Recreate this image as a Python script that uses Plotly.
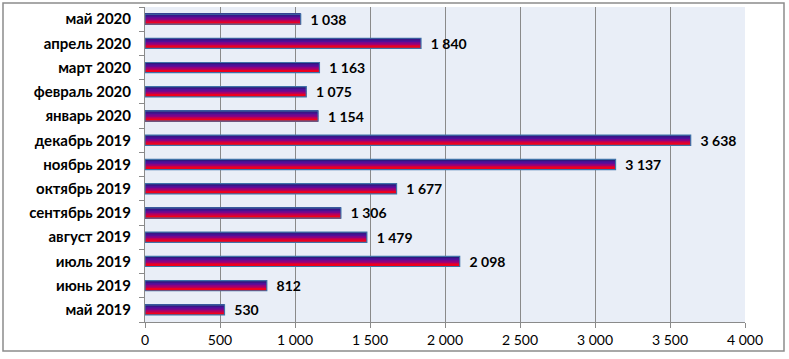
import plotly.graph_objects as go

months = ["май 2019", "июнь 2019", "июль 2019", "август 2019", "сентябрь 2019",
          "октябрь 2019", "ноябрь 2019", "декабрь 2019", "январь 2020",
          "февраль 2020", "март 2020", "апрель 2020", "май 2020"]
values = [530, 812, 2098, 1479, 1306, 1677, 3137, 3638, 1154, 1075, 1163, 1840, 1038]
x_ticks = [0, 500, 1000, 1500, 2000, 2500, 3000, 3500, 4000]

FONT = "Lato, Carlito, Calibri, 'DejaVu Sans', sans-serif"
BAR_W = 0.42
N = 14
stops = [(0.0, (255, 0, 0)), (0.25, (235, 0, 35)), (0.5, (150, 0, 125)),
         (0.75, (80, 15, 155)), (1.0, (40, 25, 120))]

def grad(t):
    for (t0, c0), (t1, c1) in zip(stops[:-1], stops[1:]):
        if t0 <= t <= t1:
            f = (t - t0) / (t1 - t0)
            return tuple(int(round(c0[k] + (c1[k] - c0[k]) * f)) for k in range(3))
    return stops[-1][1]

def fmt(v):
    return f"{v:,}".replace(",", " ")

fig = go.Figure()
for i in range(N):
    c = grad((i + 0.5) / N)
    fig.add_trace(go.Bar(
        y=months, x=values, orientation="h",
        width=BAR_W / N + 0.002, offset=-BAR_W / 2 + i * BAR_W / N,
        marker=dict(color="rgb(%d,%d,%d)" % c, line=dict(width=0)),
        hoverinfo="skip", showlegend=False,
    ))

fig.add_trace(go.Bar(
    y=months, x=values, orientation="h",
    width=BAR_W, offset=-BAR_W / 2,
    marker=dict(color="rgba(0,0,0,0)", line=dict(color="#3f72a8", width=1.2)),
    text=["\u00a0\u00a0" + fmt(v) for v in values], textposition="outside", cliponaxis=False,
    constraintext="none",
    textfont=dict(family=FONT, size=14, color="black", weight="bold"),
    showlegend=False,
))

fig.update_layout(
    width=789, height=359,
    margin=dict(l=145, r=44, t=7, b=37),
    barmode="overlay",
    paper_bgcolor="white",
    plot_bgcolor="#e9eef7",
    font=dict(family=FONT, size=13, color="black"),
    xaxis=dict(
        range=[0, 4000], tickvals=x_ticks,
        ticktext=[fmt(v) for v in x_ticks],
        showgrid=True, gridcolor="#8a8a8a", gridwidth=1,
        showline=True, linecolor="#8a8a8a", linewidth=1,
        ticks="outside", ticklen=5, tickcolor="#8a8a8a",
        tickfont=dict(family=FONT, size=14, color="black"),
        zeroline=False, fixedrange=True, automargin=False,
    ),
    yaxis=dict(
        categoryorder="array", categoryarray=months,
        showline=True, linecolor="#8a8a8a", linewidth=1,
        ticks="outside", ticklen=5, tickcolor="#8a8a8a",
        tickson="boundaries",
        tickfont=dict(family=FONT, size=15, color="black", weight="bold"),
        showgrid=False, fixedrange=True, ticklabelstandoff=10, automargin=False,
    ),
    shapes=[dict(type="rect", xref="paper", yref="paper",
                 x0=(3 - 145) / 600, x1=(784 - 145) / 600,
                 y0=-(351 - 322) / 315, y1=1 + (7 - 3) / 315,
                 line=dict(color="#8c8c8c", width=1.5), layer="below")],
)

fig.write_html("out.html", config={"displayModeBar": False},
               post_script="document.body.style.margin='0';")
